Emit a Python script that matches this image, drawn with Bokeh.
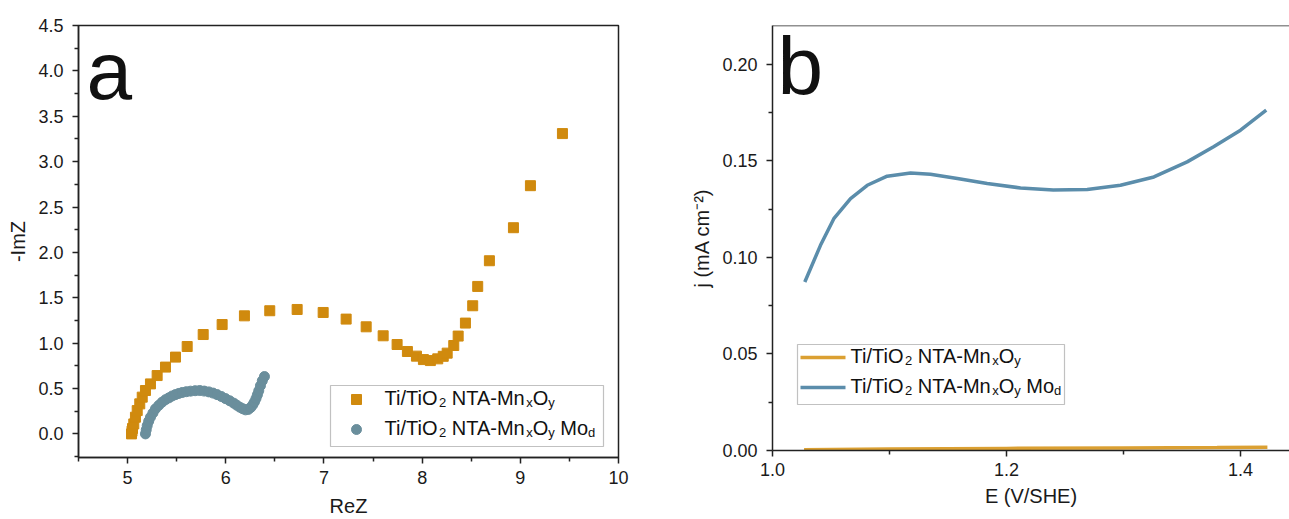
import numpy as np
from bokeh.plotting import figure
from bokeh.layouts import row
from bokeh.models import Range1d, FixedTicker, BoxAnnotation, Span, NumeralTickFormatter, Label
from bokeh.core.properties import value
from bokeh.embed import file_html
from bokeh.resources import INLINE

# ---------------- data ----------------
# Panel a: Nyquist plot
rez_mnxoy = [5.040, 5.045, 5.050, 5.063, 5.080, 5.098, 5.124, 5.149, 5.182, 5.233, 5.301,
             5.386, 5.488, 5.607, 5.770, 5.963, 6.190, 6.448, 6.727, 6.992, 7.226,
             7.430, 7.603, 7.745, 7.850, 7.942, 8.013, 8.084, 8.159, 8.215, 8.255,
             8.322, 8.367, 8.441, 8.515, 8.566, 8.685, 8.930, 9.103, 9.429]
imz_mnxoy = [0.000, 0.030, 0.060, 0.110, 0.184, 0.257, 0.331, 0.405, 0.478, 0.551, 0.643,
             0.736, 0.846, 0.963, 1.095, 1.205, 1.301, 1.357, 1.371, 1.338, 1.265,
             1.180, 1.081, 0.985, 0.908, 0.857, 0.819, 0.808, 0.827, 0.855, 0.890,
             0.974, 1.078, 1.221, 1.412, 1.625, 1.908, 2.272, 2.735, 3.309]

rez_mod = [5.182, 5.190, 5.200, 5.215, 5.233, 5.258, 5.284, 5.318, 5.352, 5.386,
           5.420, 5.454, 5.488, 5.522, 5.556, 5.598, 5.641, 5.688, 5.735, 5.780,
           5.827, 5.870, 5.912, 5.955, 5.997, 6.040, 6.081, 6.112, 6.143, 6.172,
           6.201, 6.230, 6.255, 6.275, 6.292, 6.308, 6.322, 6.336, 6.353, 6.372, 6.394]
imz_mod = [0.000, 0.045, 0.092, 0.140, 0.184, 0.230, 0.276, 0.315, 0.350, 0.377,
           0.397, 0.418, 0.433, 0.446, 0.456, 0.465, 0.471, 0.476, 0.478, 0.472,
           0.463, 0.450, 0.433, 0.412, 0.389, 0.365, 0.339, 0.316, 0.294, 0.278,
           0.265, 0.270, 0.292, 0.320, 0.352, 0.390, 0.430, 0.475, 0.530, 0.585, 0.632]

# Panel b: polarisation curves
e_mnxoy = [1.027, 1.100, 1.200, 1.300, 1.380, 1.423]
j_mnxoy = [0.0004, 0.0008, 0.0011, 0.0013, 0.0015, 0.0017]

e_mod = [1.0276, 1.041, 1.0524, 1.0667, 1.081, 1.098, 1.118, 1.135, 1.158, 1.1835,
         1.212, 1.240, 1.269, 1.2974, 1.326, 1.3544, 1.377, 1.400, 1.422]
j_mod = [0.0872, 0.1062, 0.1200, 0.1304, 0.1373, 0.1420, 0.1437, 0.1430, 0.1408, 0.1382,
         0.1359, 0.1349, 0.1351, 0.1373, 0.1416, 0.1494, 0.1572, 0.1658, 0.1762]

xticks_a = [5, 6, 7, 8, 9, 10]
yticks_a = [0.0, 0.5, 1.0, 1.5, 2.0, 2.5, 3.0, 3.5, 4.0, 4.5]
xticks_b = [1.0, 1.2, 1.4]
yticks_b = [0.00, 0.05, 0.10, 0.15, 0.20]

# ---------------- style ----------------
FONT = "Liberation Sans"
C_SQ = "#D08A0E"
C_CI = "#6A8E9C"
C_LO = "#DBA032"
C_LB = "#5B8DAB"
AXC = "#222222"

# Arial / Liberation Sans advance widths (per 1000 em) for legend layout
ADV = {"T": 611, "i": 222, "/": 278, "O": 778, "2": 556, " ": 278, "N": 722, "A": 667,
       "-": 333, "M": 833, "n": 556, "x": 500, "y": 500, "o": 556, "d": 556}


def seg_width(s, size):
    return sum(ADV.get(c, 556) for c in s) * size / 1000.0


def label_pieces(with_mod):
    pcs = [("Ti/TiO", False), ("2", True), (" NTA-Mn", False), ("x", True), ("O", False), ("y", True)]
    if with_mod:
        pcs += [(" Mo", False), ("d", True)]
    return pcs


def draw_rich(p, x, y, pieces, size=20, sub=13, sub_drop=5):
    xs, ys, txt, xo, yo, fs = [], [], [], [], [], []
    off = 0.0
    for s, is_sub in pieces:
        sz = sub if is_sub else size
        while s.startswith(" "):
            off += seg_width(" ", sz)
            s = s[1:]
        xs.append(x); ys.append(y); txt.append(s)
        xo.append(off); yo.append(sub_drop if is_sub else 0)
        fs.append(f"{sz}px")
        off += seg_width(s, sz)
    p.text(x=xs, y=ys, text=txt, x_offset=xo, y_offset=yo, text_font_size=fs,
           text_font=value(FONT), text_baseline="alphabetic", text_align="left",
           text_color="#111111")


def style_axes(p, xt, yt, xminor, yminor, xfmt, yfmt):
    p.xaxis.ticker = FixedTicker(ticks=xt, minor_ticks=xminor)
    p.yaxis.ticker = FixedTicker(ticks=yt, minor_ticks=yminor)
    p.xaxis.formatter = NumeralTickFormatter(format=xfmt)
    p.yaxis.formatter = NumeralTickFormatter(format=yfmt)
    for ax in (p.xaxis, p.yaxis):
        ax.axis_line_color = AXC
        ax.axis_line_width = 1.5
        ax.major_tick_line_color = AXC
        ax.minor_tick_line_color = AXC
        ax.major_tick_line_width = 1.5
        ax.minor_tick_line_width = 1.5
        ax.major_tick_in = 0
        ax.major_tick_out = 6
        ax.minor_tick_in = 0
        ax.minor_tick_out = 4
        ax.major_label_text_font = FONT
        ax.major_label_text_font_size = "18px"
        ax.major_label_text_color = "#1a1a1a"
        ax.axis_label_text_font = FONT
        ax.axis_label_text_font_size = "20px"
        ax.axis_label_text_font_style = "normal"
        ax.axis_label_text_color = "#1a1a1a"
    p.xgrid.visible = False
    p.ygrid.visible = False


# ---------------- panel a ----------------
XA0, XA1, YA0, YA1 = 4.5, 10.0, -0.26, 4.5
FA_L, FA_R, FA_T, FA_B = 78, 618, 22, 454
WA = 650

pa = figure(frame_width=FA_R - FA_L, frame_height=FA_B - FA_T,
            output_backend="svg", toolbar_location=None,
            x_range=Range1d(XA0, XA1), y_range=Range1d(YA0, YA1),
            min_border_left=FA_L, min_border_right=WA - FA_R,
            min_border_top=FA_T, min_border_bottom=0,
            x_axis_label="ReZ", y_axis_label="-ImZ")
pa.outline_line_color = AXC
pa.outline_line_width = 1.5
pa.outline_line_alpha = 1
style_axes(pa, xticks_a, yticks_a,
           [4.5, 5.5, 6.5, 7.5, 8.5, 9.5],
           [-0.25, 0.25, 0.75, 1.25, 1.75, 2.25, 2.75, 3.25, 3.75, 4.25],
           "0", "0.0")
pa.xaxis.major_label_standoff = 7
pa.xaxis.axis_label_standoff = 8
pa.yaxis.major_label_standoff = 9
pa.yaxis.axis_label_standoff = 6

pa.scatter(rez_mnxoy, imz_mnxoy, marker="square", size=10, color=C_SQ, line_color=C_SQ)
pa.scatter(rez_mod, imz_mod, marker="circle", size=10, color=C_CI, line_color=C_CI)


def ax_a(px):
    return XA0 + (px - FA_L) / (FA_R - FA_L) * (XA1 - XA0)


def ay_a(py):
    return YA1 - (py - FA_T) / (FA_B - FA_T) * (YA1 - YA0)


pa.add_layout(BoxAnnotation(left=ax_a(330), right=ax_a(603), top=ay_a(382), bottom=ay_a(443),
                            fill_color="white", fill_alpha=1.0, line_color="#333333",
                            line_width=1.2, level="underlay"))
pa.scatter([ax_a(356)], [ay_a(396)], marker="square", size=10, color=C_SQ)
pa.scatter([ax_a(356)], [ay_a(426)], marker="circle", size=10, color=C_CI)
draw_rich(pa, ax_a(384), ay_a(394), label_pieces(False))
draw_rich(pa, ax_a(384), ay_a(424), label_pieces(True))
pa.add_layout(Label(x=ax_a(86), y=ay_a(100), y_offset=33, text="a", text_font=FONT,
                    text_font_size="82px", text_baseline="alphabetic", text_color="#111111"))

# ---------------- panel b ----------------
WB = 1289 - WA
FB_L, FB_R, FB_T, FB_B = 772 - WA, WB, 25, 450
PXU = 1170.0
XB0 = 1.0
XB1 = XB0 + (FB_R - FB_L) / PXU
YB0, YB1 = 0.0, 0.22

pb = figure(frame_width=FB_R - FB_L, frame_height=FB_B - FB_T,
            output_backend="svg", toolbar_location=None,
            x_range=Range1d(XB0, XB1), y_range=Range1d(YB0, YB1),
            min_border_left=FB_L, min_border_right=0,
            min_border_top=FB_T, min_border_bottom=0,
            x_axis_label="E (V/SHE)", y_axis_label="j (mA cm\u207b\u00b2)")
pb.outline_line_color = None
style_axes(pb, xticks_b, yticks_b, [1.1, 1.3], [0.025, 0.075, 0.125, 0.175], "0.0", "0.00")
pb.xaxis.major_label_standoff = 6
pb.xaxis.axis_label_standoff = 6
pb.yaxis.major_label_standoff = 9
pb.yaxis.axis_label_standoff = 6
pb.add_layout(Span(location=YB1, dimension="width", line_color=AXC, line_width=1.5))

pb.line(e_mnxoy, j_mnxoy, line_color=C_LO, line_width=3.5)
pb.line(e_mod, j_mod, line_color=C_LB, line_width=3.5)


def ax_b(px):
    return XB0 + (px - 772) / PXU


def ay_b(py):
    return YB1 - (py - FB_T) / (FB_B - FB_T) * (YB1 - YB0)


pb.add_layout(BoxAnnotation(left=ax_b(797), right=ax_b(1064), top=ay_b(344), bottom=ay_b(404),
                            fill_color="white", fill_alpha=1.0, line_color="#333333",
                            line_width=1.2, level="underlay"))
pb.segment(x0=[ax_b(800)], y0=[ay_b(357)], x1=[ax_b(845)], y1=[ay_b(357)],
           line_color=C_LO, line_width=3.5)
pb.segment(x0=[ax_b(800)], y0=[ay_b(387)], x1=[ax_b(845)], y1=[ay_b(387)],
           line_color=C_LB, line_width=3.5)
draw_rich(pb, ax_b(850), ay_b(355), label_pieces(False))
draw_rich(pb, ax_b(850), ay_b(385), label_pieces(True))
pb.add_layout(Label(x=ax_b(777), y=ay_b(95), y_offset=30, text="b", text_font=FONT,
                    text_font_size="82px", text_baseline="alphabetic", text_color="#111111"))

layout = row(pa, pb)
open("out.html", "w").write(file_html(layout, INLINE))
